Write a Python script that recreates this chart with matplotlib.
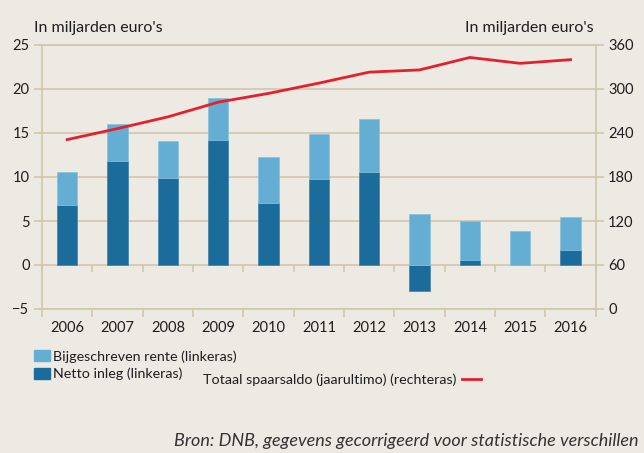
import numpy as np
import matplotlib.pyplot as plt
from matplotlib.patches import Patch
from matplotlib.lines import Line2D

# data
years = ["2006", "2007", "2008", "2009", "2010", "2011", "2012", "2013", "2014", "2015", "2016"]
netto_inleg = [6.85, 11.8, 9.9, 14.25, 7.1, 9.8, 10.6, -3.0, 0.6, 0.0, 1.7]
rente = [3.75, 4.2, 4.2, 4.7, 5.15, 5.05, 5.95, 5.75, 4.35, 3.85, 3.7]
spaarsaldo = [231, 246, 262, 282, 294, 308, 323, 326, 343, 335, 340]

# colours
BG = "#EDEAE3"
LIGHT = "#65AED3"
DARK = "#1B6B9B"
GRID = "#D1C5AE"
RED = "#E4202F"
TXT = "#1E1E1E"

plt.rcParams["font.family"] = ["Lato", "DejaVu Sans"]

fig = plt.figure(figsize=(6.44, 4.53), dpi=100, facecolor=BG)
ax = fig.add_axes([42 / 644, 1 - 309 / 453, (595.7 - 42) / 644, (309 - 45) / 453])
ax.set_facecolor(BG)

x = np.arange(len(years))
w = 0.4
base_light = np.maximum(netto_inleg, 0)
ax.bar(x, netto_inleg, width=w, color=DARK, edgecolor="#3d82ad", linewidth=0.5, zorder=3)
ax.bar(x, rente, width=w, bottom=base_light, color=LIGHT, edgecolor="#86c0de", linewidth=0.5, zorder=3)

ax.set_xlim(-0.5, len(years) - 0.5)
ax.set_ylim(-5, 25)
ax.set_yticks(np.arange(-5, 26, 5))
ax.set_yticklabels([("\u22125" if v < 0 else str(v)) for v in range(-5, 26, 5)])
ax.grid(axis="y", color=GRID, linewidth=1.2, zorder=0)
ax.set_axisbelow(True)

for s in ax.spines.values():
    s.set_color(GRID)
    s.set_linewidth(1.2)

ax.set_xticks(x)
ax.set_xticklabels(years)
ax.set_xticks(np.arange(-0.5, len(years)), minor=True)
ax.tick_params(axis="x", which="major", length=0, pad=9, labelsize=10.5, colors=TXT)
ax.tick_params(axis="x", which="minor", length=6, color=GRID, width=1.2)
ax.tick_params(axis="y", length=6, color=GRID, width=1.2, labelsize=10.5, colors=TXT, pad=3)

# small ticks hanging under the zero line
zero = ax.secondary_xaxis(5 / 30)
zero.spines["bottom"].set_visible(False)
zero.set_xticks(np.arange(-0.5, len(years)))
zero.set_xticklabels([])
zero.tick_params(length=5, color=GRID, width=1.2)

# right axis with the total balance
ax2 = ax.twinx()
ax2.set_ylim(0, 360)
ax2.set_yticks(np.arange(0, 361, 60))
ax2.plot(x, spaarsaldo, color=RED, linewidth=2, zorder=4)
for s in ax2.spines.values():
    s.set_visible(False)
ax2.tick_params(axis="y", length=6, color=GRID, width=1.2, labelsize=10.5, colors=TXT, pad=3)

fig.text(34 / 644, 1 - 28 / 453, "In miljarden euro's", fontsize=11.5, color=TXT, va="center", ha="left")
fig.text(594 / 644, 1 - 28 / 453, "In miljarden euro's", fontsize=11.5, color=TXT, va="center", ha="right")

# legend
fig.legend(
    handles=[Patch(color=LIGHT), Patch(color=DARK)],
    labels=["Bijgeschreven rente (linkeras)", "Netto inleg (linkeras)"],
    loc="upper left", bbox_to_anchor=(34 / 644, 1 - 350 / 453), frameon=False,
    fontsize=10.3, handlelength=1.15, handleheight=0.85, handletextpad=0.2,
    labelspacing=0.35, borderaxespad=0, borderpad=0, labelcolor=TXT,
)
fig.legend(
    handles=[Line2D([], [], color=RED, linewidth=2)],
    labels=["Totaal spaarsaldo (jaarultimo) (rechteras)"],
    loc="center right", bbox_to_anchor=(481 / 644, 1 - 380 / 453), frameon=False,
    fontsize=10.3, handlelength=1.3, handletextpad=0.4, markerfirst=False,
    borderaxespad=0, borderpad=0, labelcolor=TXT,
)

fig.text(638 / 644, 1 - 441 / 453, "Bron: DNB, gegevens gecorrigeerd voor statistische verschillen",
         fontsize=13, style="italic", color="#333333", ha="right", va="center")

fig.savefig("out.png", dpi=100, facecolor=BG)
